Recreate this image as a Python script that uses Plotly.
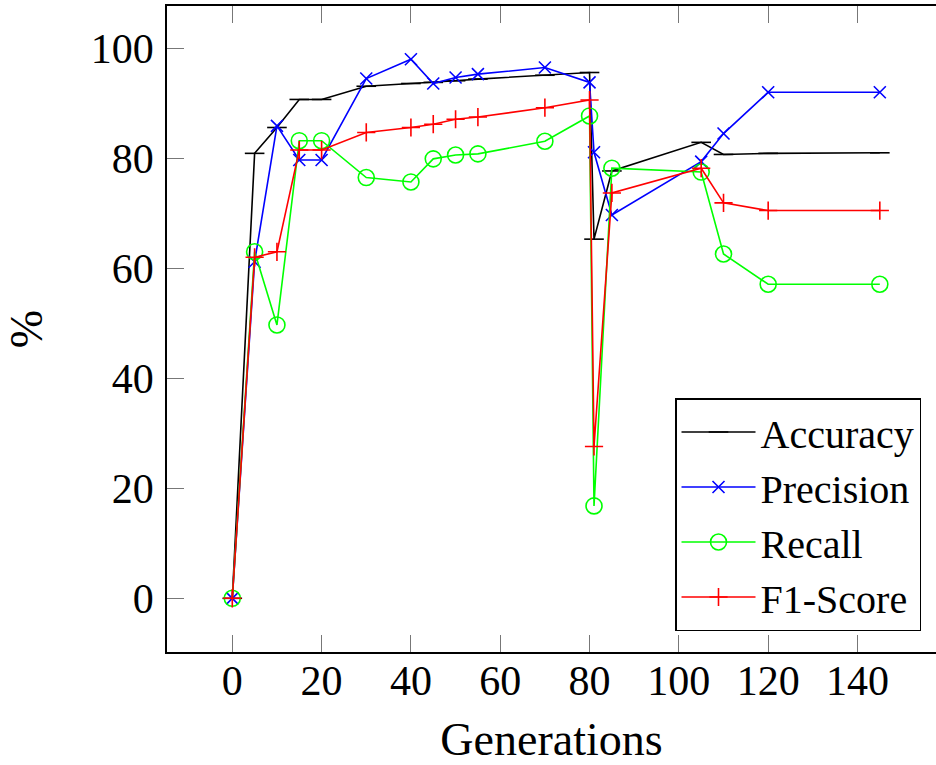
import plotly.graph_objects as go

generations = [0, 5, 10, 15, 20, 30, 40, 45, 50, 55, 70, 80, 81, 85, 105, 110, 120, 145]
accuracy = [0, 80.9, 85.6, 90.7, 90.7, 93.1, 93.6, 93.8, 94.1, 94.4, 95.1, 95.6, 65.3, 77.7, 82.9, 80.7, 80.9, 81.0]
precision = [0, 61.2, 85.9, 79.7, 79.7, 94.5, 98.0, 93.6, 94.7, 95.3, 96.5, 93.8, 81.1, 69.7, 79.4, 84.5, 92.0, 92.0]
recall = [0, 63.0, 49.7, 83.2, 83.2, 76.5, 75.7, 79.9, 80.6, 80.8, 83.1, 87.7, 16.8, 78.2, 77.5, 62.6, 57.1, 57.1]
f1_score = [0, 62.0, 63.0, 81.5, 81.5, 84.7, 85.6, 86.2, 87.1, 87.5, 89.2, 90.6, 27.6, 73.7, 78.2, 71.9, 70.5, 70.5]

x_ticks = [0, 20, 40, 60, 80, 100, 120, 140]
y_ticks = [0, 20, 40, 60, 80, 100]

FONT = "Liberation Serif"

series = [
    ("Accuracy", accuracy, "#000000", "line-ew", 14),
    ("Precision", precision, "#0000ff", "x-thin", 12),
    ("Recall", recall, "#00ff00", "circle-open", 16),
    ("F1-Score", f1_score, "#ff0000", "cross-thin", 13),
]

fig = go.Figure()
for name, vals, color, sym, size in series:
    fig.add_trace(go.Scatter(
        x=generations, y=vals, name=name, mode="lines+markers",
        line=dict(color=color, width=1.6),
        marker=dict(symbol=sym, size=size, color=color,
                    line=dict(color=color, width=1.6)),
    ))

axis_common = dict(
    showgrid=False, zeroline=False, automargin=False,
    ticks="inside", ticklen=17, tickwidth=1.2, tickcolor="#777777",
    tickfont=dict(family=FONT, size=42, color="black"),
)

fig.update_layout(
    width=936, height=765,
    margin=dict(l=167, r=0, t=6, b=113),
    paper_bgcolor="white", plot_bgcolor="white",
    font=dict(family=FONT, color="black"),
    xaxis=dict(
        range=[-14.62, 157.58], tickvals=x_ticks,
        showline=True, linecolor="black", linewidth=1.8, mirror="ticks",
        ticklabelstandoff=-9,
        title=dict(text="Generations", font=dict(family=FONT, size=46), standoff=36),
        **axis_common,
    ),
    yaxis=dict(
        range=[-9.76, 107.69], tickvals=y_ticks,
        showline=True, linecolor="black", linewidth=1.8, mirror=False,
        ticklabelstandoff=3,
        title=dict(text="%", font=dict(family=FONT, size=46), standoff=34),
        **axis_common,
    ),
    yaxis2=dict(
        overlaying="y", side="right", matches="y", tickvals=y_ticks,
        showticklabels=False, showline=False, showgrid=False, zeroline=False,
        ticks="inside", ticklen=17, tickwidth=1.2, tickcolor="#777777",
    ),
    legend=dict(
        x=0.9805, y=0.0325, xanchor="right", yanchor="bottom",
        bgcolor="white", bordercolor="black", borderwidth=1.5,
        font=dict(family=FONT, size=40, color="black"),
        itemwidth=74,
    ),
    showlegend=True,
)

fig.write_html(
    "out.html",
    config={"displayModeBar": False},
    post_script="document.body.style.margin='0';",
)
